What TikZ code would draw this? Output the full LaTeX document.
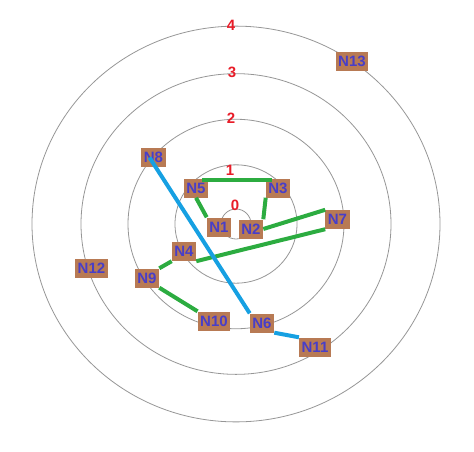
\documentclass[tikz,border=0pt]{standalone}
\usepackage{fontspec}
\setmainfont{Liberation Sans}
\definecolor{ringgray}{RGB}{150,150,150}
\definecolor{boxbrown}{RGB}{184,122,84}
\definecolor{nodeblue}{RGB}{72,62,200}
\definecolor{levelred}{RGB}{232,28,40}
\definecolor{linkgreen}{RGB}{44,172,64}
\definecolor{linkblue}{RGB}{22,160,226}
\tikzset{
  nd/.style={fill=boxbrown, text=nodeblue, font=\bfseries\fontsize{15}{15}\selectfont,
    inner xsep=2.5pt, inner ysep=0pt, minimum height=19pt},
  lvl/.style={text=levelred, font=\bfseries\fontsize{15}{15}\selectfont, inner sep=0pt},
  ring/.style={draw=ringgray, line width=0.8pt},
  glink/.style={draw=linkgreen, line width=4pt},
  blink/.style={draw=linkblue, line width=4pt}
}
\begin{document}
\begin{tikzpicture}[x=1pt, y=-1pt]
\useasboundingbox (0,0) rectangle (474,451);

% Rings
\coordinate (c) at (236,224);
\draw[ring] (c) circle [radius=15pt];
\foreach \r in {61,108,155,204}
  \draw[ring] (c) ellipse [x radius=\r pt, y radius={0.97*\r*1pt}];

% Ring numbers
\node[lvl] (l0) at (235,205) {0};
\node[lvl] (l1) at (230,170) {1};
\node[lvl] (l2) at (231,118) {2};
\node[lvl] (l3) at (232,72) {3};
\node[lvl] (l4) at (231,25) {4};

% Nodes
\node[nd] (N1) at (219,227) {N1};
\node[nd] (N2) at (251,229) {N2};
\node[nd] (N3) at (278,188) {N3};
\node[nd] (N4) at (184,251.5) {N4};
\node[nd] (N5) at (196,188) {N5};
\node[nd] (N6) at (262,323) {N6};
\node[nd] (N7) at (337.5,219.5) {N7};
\node[nd] (N8) at (153.5,157.5) {N8};
\node[nd] (N9) at (147,278) {N9};
\node[nd] (N10) at (214,321) {N10};
\node[nd] (N11) at (315,347) {N11};
\node[nd] (N12) at (91.5,268.5) {N12};
\node[nd] (N13) at (352,61) {N13};

% Links
\draw[glink] ([xshift=-6pt,yshift=-2pt]N5.north east) -- ([xshift=6pt,yshift=-2pt]N3.north west);
\draw[glink] (N5.south) -- (N1.north west);
\draw[glink] (N3.south west) -- (N2.north east);
\draw[glink] (N2.east) -- (N7.north west);
\draw[glink] (N7.south west) -- (N4.south east);
\draw[glink] (N4.south west) -- (N9.north east);
\draw[glink] (N9.south east) -- (N10.north west);
\draw[blink] ([xshift=-4pt]N8.center) -- (N6.north west);
\draw[blink] (N6.south east) -- (N11.north west);
\end{tikzpicture}
\end{document}
